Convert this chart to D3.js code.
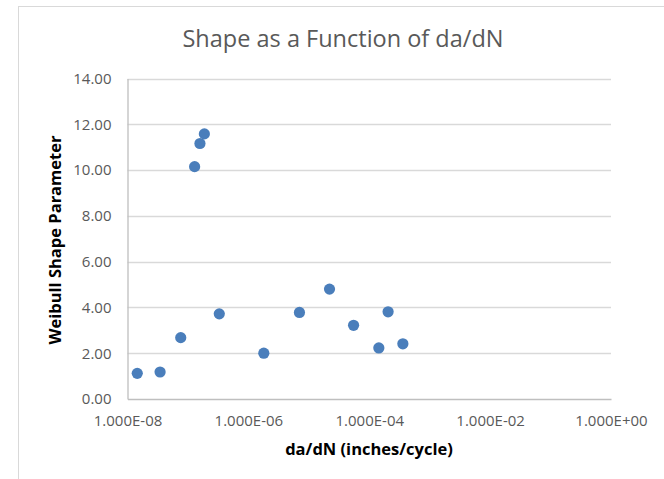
<!DOCTYPE html>
<html>
<head>
<meta charset="utf-8">
<script src="https://cdn.jsdelivr.net/npm/d3@7"></script>
<style>
  html, body { margin: 0; padding: 0; background: #ffffff; }
  svg { display: block; }
</style>
</head>
<body>
<svg id="chart" width="664" height="479"></svg>
<script>
// Crack growth rate (inches/cycle) and fitted Weibull shape parameter
const growthRate = [1.45e-8, 3.46e-8, 7.6e-8, 1.29e-7, 1.58e-7, 1.87e-7, 3.3e-7,
                    1.8e-6, 7.0e-6, 2.2e-5, 5.5e-5, 1.44e-4, 2.05e-4, 3.6e-4];
const shapeParam = [1.12, 1.18, 2.68, 10.15, 11.16, 11.58, 3.72,
                    2.00, 3.78, 4.80, 3.22, 2.23, 3.81, 2.41];
const xTickValues = [1e-8, 1e-6, 1e-4, 1e-2, 1e0];
const yTickValues = [0, 2, 4, 6, 8, 10, 12, 14];

const titleText = "Shape as a Function of da/dN";
const xTitle = "da/dN (inches/cycle)";
const yTitle = "Weibull Shape Parameter";

const svg = d3.select("#chart");
const W = 664, H = 479;
const plot = { left: 127.5, right: 611, top: 78.5, bottom: 399 };
const font = "'Open Sans', 'Noto Sans', sans-serif";

// Chart frame
svg.append("rect")
  .attr("x", 18.5).attr("y", 6.5)
  .attr("width", W).attr("height", H)
  .attr("fill", "#fff").attr("stroke", "#d9d9d9").attr("stroke-width", 1);

const x = d3.scaleLog().domain([1e-8, 1]).range([plot.left, plot.right]);
const y = d3.scaleLinear().domain([0, 14]).range([plot.bottom, plot.top]);

// Exponential label format, e.g. 1.000E-08
const sciFmt = v => {
  const e = Math.round(Math.log10(v));
  const m = v / Math.pow(10, e);
  const sign = e < 0 ? "-" : "+";
  return m.toFixed(3) + "E" + sign + String(Math.abs(e)).padStart(2, "0");
};

// Horizontal gridlines
svg.append("g")
  .selectAll("line")
  .data(yTickValues.filter(d => d > 0))
  .join("line")
  .attr("x1", plot.left).attr("x2", plot.right)
  .attr("y1", d => Math.round(y(d)) + 0.5).attr("y2", d => Math.round(y(d)) + 0.5)
  .attr("stroke", "#d9d9d9").attr("stroke-width", 1.3);

// Y axis
const yAxis = svg.append("g")
  .attr("transform", `translate(${plot.left},0)`)
  .call(d3.axisLeft(y).tickValues(yTickValues).tickFormat(d3.format(".2f")).tickSize(0).tickPadding(16));
yAxis.select(".domain").attr("stroke", "#bfbfbf").attr("stroke-width", 1.3);
yAxis.selectAll("text")
  .attr("fill", "#595959").style("font-family", font).style("font-size", "15px");

// X axis
const xAxis = svg.append("g")
  .attr("transform", `translate(0,${plot.bottom})`)
  .call(d3.axisBottom(x).tickValues(xTickValues).tickFormat(sciFmt).tickSize(0).tickPadding(16));
xAxis.select(".domain").attr("stroke", "#bfbfbf").attr("stroke-width", 1.3);
xAxis.selectAll("text")
  .attr("fill", "#595959").style("font-family", font).style("font-size", "15px");

// Points
svg.append("g")
  .selectAll("circle")
  .data(growthRate.map((g, i) => ({ g, s: shapeParam[i] })))
  .join("circle")
  .attr("cx", d => x(d.g))
  .attr("cy", d => y(d.s))
  .attr("r", 5.6)
  .attr("fill", "#4a7ebb");

// Title
svg.append("text")
  .attr("x", 343).attr("y", 47)
  .attr("text-anchor", "middle")
  .attr("fill", "#595959")
  .style("font-family", font).style("font-size", "23.5px")
  .text(titleText);

// Axis titles
svg.append("text")
  .attr("x", 369).attr("y", 455)
  .attr("text-anchor", "middle")
  .attr("fill", "#000")
  .style("font-family", font).style("font-size", "16.5px").style("font-weight", "bold")
  .text(xTitle);

svg.append("text")
  .attr("transform", "translate(61,240) rotate(-90)")
  .attr("text-anchor", "middle")
  .attr("fill", "#000")
  .style("font-family", font).style("font-size", "16.5px").style("font-weight", "bold")
  .text(yTitle);
</script>
</body>
</html>
